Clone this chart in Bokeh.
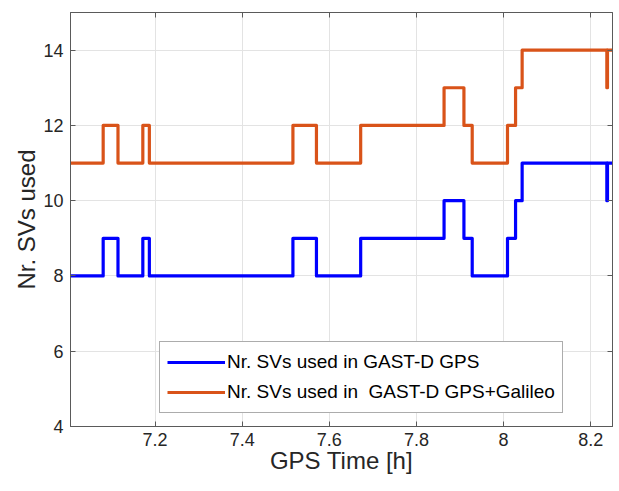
from bokeh.plotting import figure
from bokeh.models import (LinearAxis, FixedTicker, CustomJSTickFormatter, Range1d,
                          Legend, LegendItem, ColumnDataSource)
from bokeh.embed import file_html
from bokeh.resources import INLINE

# ---- data ----
time_h = [7.006, 7.081, 7.115, 7.172, 7.187, 7.5165, 7.5705, 7.672, 7.8634,
          7.909, 7.928, 8.009, 8.0275, 8.0426, 8.237, 8.2385, 8.25]
gps_sv = [8, 9, 8, 9, 8, 9, 8, 9, 10, 9, 8, 9, 10, 11, 10, 11, 11]
gps_gal_sv = [11, 12, 11, 12, 11, 12, 11, 12, 13, 12, 11, 12, 13, 14, 13, 14, 14]
x_ticks = [7.2, 7.4, 7.6, 7.8, 8.0, 8.2]
y_ticks = [4, 6, 8, 10, 12, 14]
labels = ["Nr. SVs used in GAST-D GPS", "Nr. SVs used in  GAST-D GPS+Galileo"]

FONT = "Liberation Sans"
TXT = "#262626"
AX = "#5a5a5a"

p = figure(frame_width=542, frame_height=414,
           x_range=Range1d(7.006, 8.25), y_range=Range1d(4, 15),
           output_backend="svg", toolbar_location=None,
           min_border_left=70, min_border_right=2, min_border_top=12, min_border_bottom=57)
p.background_fill_color = "white"
p.border_fill_color = "white"
p.outline_line_color = AX
p.outline_line_width = 1

fmt = CustomJSTickFormatter(code="return (Math.round(tick*10)/10).toString();")

for ax in p.xaxis:
    ax.ticker = FixedTicker(ticks=x_ticks)
    ax.formatter = fmt
    ax.axis_label = "GPS Time [h]"
for ax in p.yaxis:
    ax.ticker = FixedTicker(ticks=y_ticks)
    ax.axis_label = "Nr. SVs used"

for ax in list(p.xaxis) + list(p.yaxis):
    ax.major_tick_in = 5
    ax.major_tick_out = 0
    ax.minor_tick_line_color = None
    ax.axis_line_color = AX
    ax.major_tick_line_color = AX
    ax.major_label_text_font = FONT
    ax.major_label_text_font_size = "18px"
    ax.major_label_text_color = TXT
    ax.axis_label_text_font = FONT
    ax.axis_label_text_font_size = "24px"
    ax.axis_label_text_font_style = "normal"
    ax.axis_label_text_color = TXT
p.xaxis.major_label_standoff = 6
p.xaxis.axis_label_standoff = -2
p.yaxis.major_label_standoff = 7
p.yaxis.axis_label_standoff = 0

# box ticks on top and right (no labels drawn)
top = LinearAxis(ticker=FixedTicker(ticks=x_ticks), major_tick_in=5, major_tick_out=0,
                 major_label_text_font_size="1px", major_label_text_color=None,
                 minor_tick_line_color=None,
                 axis_line_color=AX, major_tick_line_color=AX, major_label_standoff=0)
right = LinearAxis(ticker=FixedTicker(ticks=y_ticks), major_tick_in=5, major_tick_out=0,
                   major_label_text_font_size="1px", major_label_text_color=None,
                   minor_tick_line_color=None,
                   axis_line_color=AX, major_tick_line_color=AX, major_label_standoff=0)
p.add_layout(top, "above")
p.add_layout(right, "right")

p.xgrid.ticker = FixedTicker(ticks=x_ticks)
p.ygrid.ticker = FixedTicker(ticks=y_ticks)
p.grid.grid_line_color = "#e3e3e3"
p.grid.grid_line_width = 1

src = ColumnDataSource(dict(t=time_h, gps=gps_sv, gal=gps_gal_sv))
r1 = p.step(x="t", y="gps", source=src, mode="after", line_width=3.2,
            line_color="#0000ff", line_join="round")
r2 = p.step(x="t", y="gal", source=src, mode="after", line_width=3.2,
            line_color="#d95319", line_join="round")

legend = Legend(items=[LegendItem(label=labels[0], renderers=[r1]),
                       LegendItem(label=labels[1], renderers=[r2])],
                location=(89, 13))
legend.glyph_width = 58
legend.glyph_height = 26
legend.label_height = 26
legend.label_standoff = 2
legend.padding = 7
legend.spacing = 4
legend.margin = 0
legend.border_line_color = AX
legend.border_line_width = 1
legend.label_text_font = FONT
legend.label_text_font_size = "19px"
legend.label_text_color = "#000000"
legend.background_fill_color = "white"
legend.background_fill_alpha = 1
p.add_layout(legend)

open("out.html", "w").write(file_html(p, INLINE))
